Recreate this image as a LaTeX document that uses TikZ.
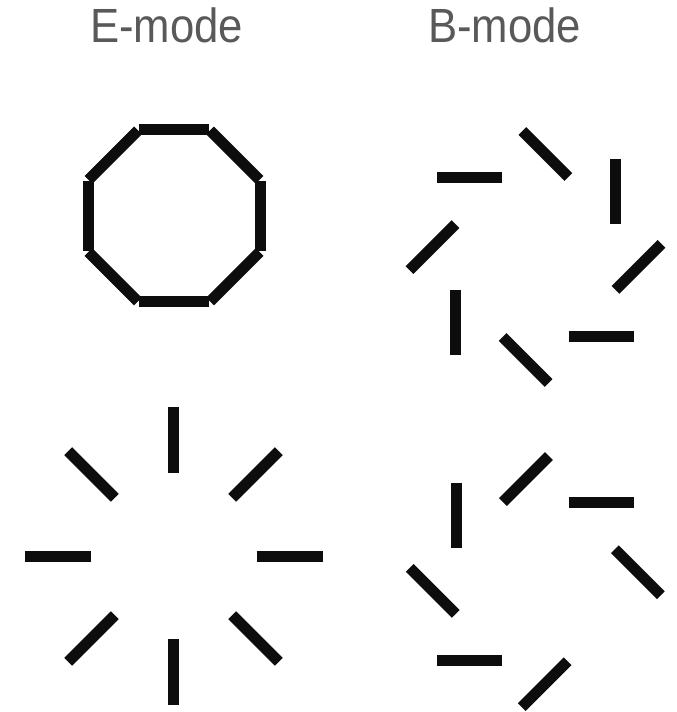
\documentclass[tikz,border=0pt]{standalone}
\usepackage{fontspec}
\setmainfont{Liberation Sans}

\begin{document}
\begin{tikzpicture}[x=1pt, y=1pt,
  stick/.style={line width=11pt, black!95},
  modetitle/.style={font=\fontsize{48}{54}\selectfont, text=black!65, anchor=base, inner sep=0pt}]
  \useasboundingbox (0,0) rectangle (677,712);

  % Titles
  \node[modetitle] (etitle) at (166.5,669) {\scalebox{0.91}[1]{E-mode}};
  \node[modetitle] (btitle) at (504.5,669) {\scalebox{0.91}[1]{B-mode}};

  % Pattern centres
  \coordinate (eoct) at (174,496);
  \coordinate (btop) at (535.5,455);
  \coordinate (erad) at (173.5,155.5);
  \coordinate (bbot) at (535.3,130.4);

  % E-mode: sticks tangential (closed octagon)
  \foreach \p in {0,45,...,315}
    \draw[stick] (eoct) ++(\p:86) ++(\p+90:35) -- ++(\p-90:70);

  % B-mode: sticks turned by 45 degrees, one handedness
  \foreach \p in {-5.5,39.5,...,310}
    \draw[stick] (btop) ++(\p:103.5) ++(\p+50.5:-32.5) -- ++(\p+50.5:65);

  % E-mode: sticks radial
  \foreach \p in {0,45,...,315}
    \draw[stick] (erad) ++(\p:116) ++(\p:-33) -- ++(\p:66);

  % B-mode: sticks turned the other way
  \foreach \p in {5.2,50.2,...,320}
    \draw[stick] (bbot) ++(\p:103) ++(\p-50.2:-32.5) -- ++(\p-50.2:65);
\end{tikzpicture}
\end{document}
